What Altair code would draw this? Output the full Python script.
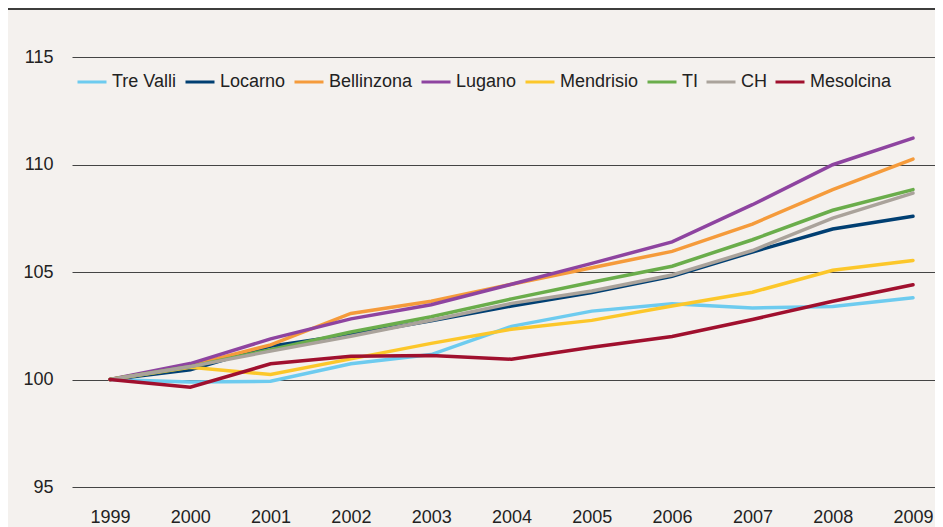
import altair as alt
import pandas as pd

years = [1999, 2000, 2001, 2002, 2003, 2004, 2005, 2006, 2007, 2008, 2009]
series_names = ["Tre Valli", "Locarno", "Bellinzona", "Lugano", "Mendrisio", "TI", "CH", "Mesolcina"]
series_colors = ["#6dcbef", "#003f72", "#f59b3b", "#8e44a0", "#fcc72a", "#6aad4b", "#aaa39b", "#a0102e"]

tre_valli = [100, 99.88, 99.92, 100.73, 101.16, 102.47, 103.18, 103.52, 103.33, 103.4, 103.8]
locarno = [100, 100.45, 101.55, 102.09, 102.73, 103.42, 104.05, 104.8, 105.93, 107.0, 107.59]
bellinzona = [100, 100.65, 101.61, 103.07, 103.64, 104.43, 105.2, 105.96, 107.23, 108.83, 110.25]
lugano = [100, 100.74, 101.89, 102.82, 103.48, 104.43, 105.4, 106.4, 108.13, 109.99, 111.23]
mendrisio = [100, 100.57, 100.23, 100.96, 101.68, 102.34, 102.75, 103.42, 104.06, 105.08, 105.54]
ti = [100, 100.6, 101.39, 102.21, 102.92, 103.75, 104.52, 105.27, 106.5, 107.87, 108.83]
ch = [100, 100.6, 101.32, 102.01, 102.76, 103.54, 104.12, 104.86, 106.0, 107.51, 108.67]
mesolcina = [100, 99.64, 100.73, 101.08, 101.12, 100.94, 101.5, 102.0, 102.79, 103.64, 104.41]

all_values = [tre_valli, locarno, bellinzona, lugano, mendrisio, ti, ch, mesolcina]

rows = []
for name, vals in zip(series_names, all_values):
    for yr, v in zip(years, vals):
        rows.append({"anno": yr, "serie": name, "valore": v})
df = pd.DataFrame(rows)

FONT = "Liberation Sans"
PLOT_W = 863
PLOT_H = 430

lines = alt.Chart(df).mark_line(strokeWidth=3.5, strokeCap="round").encode(
    x=alt.X(
        "anno:Q",
        scale=alt.Scale(domain=[1998.527, 2009.274], nice=False, zero=False),
        axis=alt.Axis(values=years, format="d", title=None, grid=False, ticks=False,
                      tickSize=0, domain=False, labelFontSize=18, labelPadding=21,
                      labelColor="#222222", labelFont=FONT),
    ),
    y=alt.Y(
        "valore:Q",
        scale=alt.Scale(domain=[95, 115], nice=False, zero=False),
        axis=alt.Axis(values=[95, 100, 105, 110, 115], title=None, grid=True,
                      gridColor="#444444", gridWidth=1, ticks=False, tickSize=0,
                      domain=False, labelFontSize=18, labelPadding=19,
                      labelColor="#222222", labelFont=FONT),
    ),
    color=alt.Color(
        "serie:N",
        scale=alt.Scale(domain=series_names, range=series_colors),
        legend=alt.Legend(title=None, orient="none", legendX=4, legendY=9,
                          direction="horizontal", columns=8, symbolType="stroke",
                          symbolSize=841, symbolStrokeWidth=3, labelFontSize=18,
                          labelFont=FONT, labelColor="#222222", labelOffset=4,
                          columnPadding=2, padding=0),
    ),
)

top_rule = alt.Chart(pd.DataFrame({"a": [0]})).mark_rule(color="#000000", strokeWidth=1.5).encode(
    x=alt.value(-64), x2=alt.value(PLOT_W), y=alt.value(-48)
)

chart = alt.layer(lines, top_rule).properties(
    width=PLOT_W,
    height=PLOT_H,
    padding={"left": 64, "top": 49, "right": 0, "bottom": 40},
    autosize=alt.AutoSizeParams(type="none"),
).configure(
    background="#f4f1ee",
    font=FONT,
).configure_view(stroke=None)

chart.save("out.html", embed_options={"renderer": "svg", "actions": False})
